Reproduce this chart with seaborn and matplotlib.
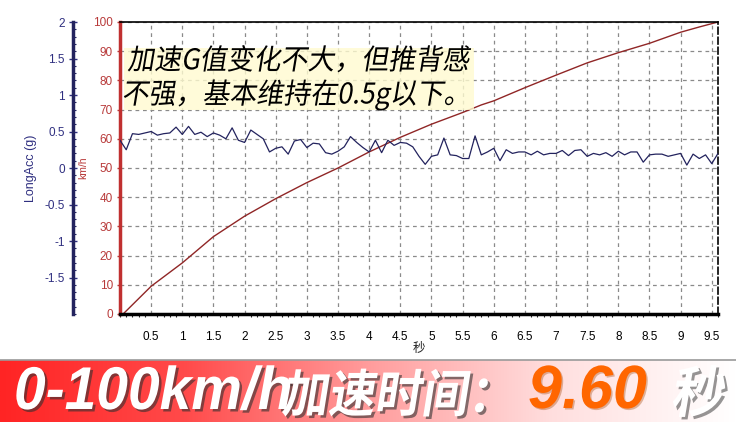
import numpy as np
import matplotlib
matplotlib.use('Agg')
import matplotlib.pyplot as plt
import matplotlib.patheffects as pe
from matplotlib.colors import LinearSegmentedColormap, to_rgb
from matplotlib.transforms import Affine2D
import seaborn as sns

# 数据：车速曲线 (秒, km/h)
speed_t = [0.05, 0.5, 1.0, 1.5, 2.0, 2.5, 3.0, 3.5, 4.0, 4.5, 5.0,
           5.5, 5.8, 6.0, 6.5, 7.0, 7.5, 8.0, 8.5, 9.0, 9.3, 9.6]
speed_kmh = [0, 9.5, 17.5, 26.5, 33.5, 39.5, 45, 50, 55.5, 60.5, 65,
             69, 71.6, 73, 77.5, 81.8, 86, 89.5, 92.7, 96.5, 98.3, 100]

# 数据：纵向加速度 (秒, g)
g_t = [0.0, 0.1, 0.2, 0.3, 0.4, 0.5, 0.6, 0.7, 0.8, 0.9,
       1.0, 1.1, 1.2, 1.3, 1.4, 1.5, 1.6, 1.7, 1.8, 1.9,
       2.0, 2.1, 2.2, 2.3, 2.4, 2.5, 2.6, 2.7, 2.8, 2.9,
       3.0, 3.1, 3.2, 3.3, 3.4, 3.5, 3.6, 3.7, 3.8, 3.9,
       4.0, 4.1, 4.2, 4.3, 4.4, 4.5, 4.6, 4.7, 4.8, 4.9,
       5.0, 5.1, 5.2, 5.3, 5.4, 5.5, 5.6, 5.7, 5.8, 5.9,
       6.0, 6.1, 6.2, 6.3, 6.4, 6.5, 6.6, 6.7, 6.8, 6.9,
       7.0, 7.1, 7.2, 7.3, 7.4, 7.5, 7.6, 7.7, 7.8, 7.9,
       8.0, 8.1, 8.2, 8.3, 8.4, 8.5, 8.6, 8.7, 8.8, 8.9,
       9.0, 9.1, 9.2, 9.3, 9.4, 9.5, 9.6]
g_val = [0.38, 0.25, 0.47, 0.46, 0.48, 0.50, 0.45, 0.47, 0.48, 0.56,
         0.46, 0.57, 0.46, 0.49, 0.43, 0.48, 0.45, 0.40, 0.55, 0.38,
         0.35, 0.52, 0.46, 0.40, 0.22, 0.27, 0.29, 0.19, 0.37, 0.39,
         0.28, 0.34, 0.33, 0.21, 0.19, 0.23, 0.29, 0.43, 0.35, 0.28,
         0.22, 0.38, 0.21, 0.38, 0.31, 0.35, 0.34, 0.29, 0.16, 0.05,
         0.16, 0.18, 0.41, 0.18, 0.17, 0.13, 0.13, 0.44, 0.18, 0.22,
         0.27, 0.10, 0.25, 0.20, 0.22, 0.22, 0.18, 0.23, 0.18, 0.20,
         0.20, 0.24, 0.17, 0.24, 0.25, 0.16, 0.20, 0.18, 0.21, 0.16,
         0.23, 0.18, 0.22, 0.22, 0.08, 0.18, 0.19, 0.19, 0.16, 0.18,
         0.20, 0.04, 0.19, 0.13, 0.18, 0.06, 0.20]

x_ticks = [0.5, 1, 1.5, 2, 2.5, 3, 3.5, 4, 4.5, 5, 5.5, 6, 6.5, 7, 7.5, 8, 8.5, 9, 9.5]
kmh_ticks = [0, 10, 20, 30, 40, 50, 60, 70, 80, 90, 100]
g_ticks = [-1.5, -1, -0.5, 0, 0.5, 1, 1.5, 2]

note = "加速G值变化不大，但推背感\n不强，基本维持在0.5g以下。"
banner_a = "0-100km/h"
banner_b = "加速时间："
banner_time = "9.60"
banner_unit = "秒"


# 文字变形 (斜体/拉高) + 阴影
class Warp(pe.AbstractPathEffect):
    def __init__(self, x0, y0, sx=1.0, sy=1.0, shear=0.0, shadow=None, shadow_offset=(2, -2), shadow_alpha=0.6):
        super().__init__()
        self.t = Affine2D().translate(-x0, -y0).skew_deg(shear, 0).scale(sx, sy).translate(x0, y0)
        self.shadow = None if shadow is None else to_rgb(shadow)
        self.shadow_offset = shadow_offset
        self.shadow_alpha = shadow_alpha

    def draw_path(self, renderer, gc, tpath, affine, rgbFace=None):
        aff = affine + self.t
        if self.shadow is not None:
            gc0 = renderer.new_gc()
            gc0.copy_properties(gc)
            gc0.set_foreground(self.shadow)
            gc0.set_alpha(self.shadow_alpha)
            gc0.set_linewidth(0)
            renderer.draw_path(gc0, tpath, aff + Affine2D().translate(*self.shadow_offset), self.shadow)
            gc0.restore()
        renderer.draw_path(gc, tpath, aff, rgbFace)


sns.set_style("white")
plt.rcParams['font.family'] = ['Liberation Sans', 'Noto Sans CJK SC', 'DejaVu Sans']

RED = '#b83a3a'
NAVY = '#23235e'
W, H = 736, 422

fig = plt.figure(figsize=(7.36, 4.22), dpi=100)
fig.patch.set_facecolor('white')

# 主坐标轴 (km/h)
ax = fig.add_axes([120 / W, 1 - 314 / H, 598 / W, 292 / H])
sns.lineplot(x=speed_t, y=speed_kmh, ax=ax, color='#902626', lw=1.0)
ax.set_xlim(0, 9.6)
ax.set_ylim(0, 100)
ax.set_xticks(x_ticks)
ax.set_xticklabels([f"{v:g}" for v in x_ticks])
ax.set_xticks(np.arange(0, 9.61, 0.1), minor=True)
ax.set_yticks(kmh_ticks)
ax.grid(True, ls=(0, (3, 3)), color='#8a8a8a', lw=0.9)
ax.tick_params(axis='x', which='major', length=4, width=1, labelsize=8.5, pad=8, colors='black')
ax.tick_params(axis='x', which='minor', length=2.5, width=0.8, bottom=True)
ax.tick_params(axis='y', length=2, width=1, labelsize=8.5, pad=3, colors=RED, left=True)
ax.set_xlabel("秒", fontsize=9, labelpad=2, family=['Noto Sans CJK SC'])
ax.xaxis.set_label_coords(0.5, -0.095)
ax.set_ylabel("km/h", fontsize=7.5, color=RED, labelpad=0)
ax.yaxis.set_label_coords(-0.0535, 0.5)
ax.spines['left'].set_color('#c03030')
ax.spines['left'].set_linewidth(2.5)
ax.spines['bottom'].set_color('black')
ax.spines['bottom'].set_linewidth(2.5)
ax.spines['top'].set_linewidth(1.2)
ax.spines['top'].set_color('black')
ax.spines['right'].set_linestyle((0, (4, 2)))
ax.spines['right'].set_linewidth(1.2)
ax.spines['right'].set_color('black')

# 第二坐标轴 (g)
ax2 = ax.twinx()
sns.lineplot(x=g_t, y=g_val, ax=ax2, color=NAVY, lw=0.9)
ax2.set_ylim(-2, 2)
ax2.set_xlim(0, 9.6)
ax2.set_yticks(g_ticks)
ax2.set_yticklabels([f"{v:g}" for v in g_ticks])
ax2.set_yticks(np.arange(-2, 2.01, 0.1), minor=True)
ax2.yaxis.set_ticks_position('left')
ax2.yaxis.set_label_position('left')
ax2.spines['left'].set_position(('axes', -47 / 598))
ax2.spines['left'].set_color(NAVY)
ax2.spines['left'].set_linewidth(2.5)
for s in ['right', 'top', 'bottom']:
    ax2.spines[s].set_visible(False)
ax2.tick_params(axis='y', which='major', direction='inout', length=6, width=1,
                labelsize=8.5, colors='#2f2f80', pad=3)
ax2.tick_params(axis='y', which='minor', direction='in', length=2, width=0.8, colors=NAVY)
ax2.set_ylabel("LongAcc (g)", fontsize=9, color='#2f2f80')
ax2.yaxis.set_label_coords(-0.139, 0.5)

# 注释文字
fig.text(125 / W, 1 - 49 / H, note, fontsize=19.4, va='top', ha='left',
         family=['Noto Sans CJK SC'], color='black', linespacing=1.15,
         bbox=dict(boxstyle='square,pad=0.05', facecolor='#fffbd0', edgecolor='none', alpha=0.8),
         path_effects=[Warp(125, H - 82, sy=1.06, shear=10)])

# 底部横幅
axb = fig.add_axes([0, 0, 1, 62 / H])
cmap = LinearSegmentedColormap.from_list('banner', ['#ff2424', '#ff4a4a', '#ff9c9c', '#ffdede', '#ffffff'])
grad = np.linspace(0, 1, 256).reshape(1, -1)
axb.imshow(grad, aspect='auto', cmap=cmap, extent=[0, 1, 0, 1])
axb.set_axis_off()
fig.add_artist(plt.Line2D([0, 1], [62 / H, 62 / H], color='#9a9a9a', lw=1.2))

fig.text(14 / W, 13 / H, banner_a, fontsize=41, fontweight='bold', style='italic',
         color='white', va='baseline', ha='left', family=['Liberation Sans'],
         path_effects=[Warp(14, 13, sy=1.06, shadow='#303030', shadow_offset=(2.5, -2.5))])
fig.text(281 / W, 10 / H, banner_b, fontsize=33.5, fontweight='heavy',
         color='white', va='baseline', ha='left', family=['Noto Sans CJK SC'],
         path_effects=[Warp(281, 10, sy=1.1, shear=10, shadow='#303030', shadow_offset=(2.5, -2.5))])
fig.text(528 / W, 14 / H, banner_time, fontsize=44, fontweight='bold', style='italic',
         color='#ff6600', va='baseline', ha='left', family=['Liberation Sans'],
         path_effects=[Warp(528, 14, shadow='#a04000', shadow_offset=(1.5, -1.5), shadow_alpha=0.35)])
fig.text(670 / W, 10 / H, banner_unit, fontsize=38, fontweight='heavy',
         color='white', va='baseline', ha='left', family=['Noto Sans CJK SC'],
         path_effects=[Warp(670, 10, sy=1.05, shear=10, shadow='#505050', shadow_offset=(2.5, -2.5))])

fig.savefig('out.png', dpi=100)
